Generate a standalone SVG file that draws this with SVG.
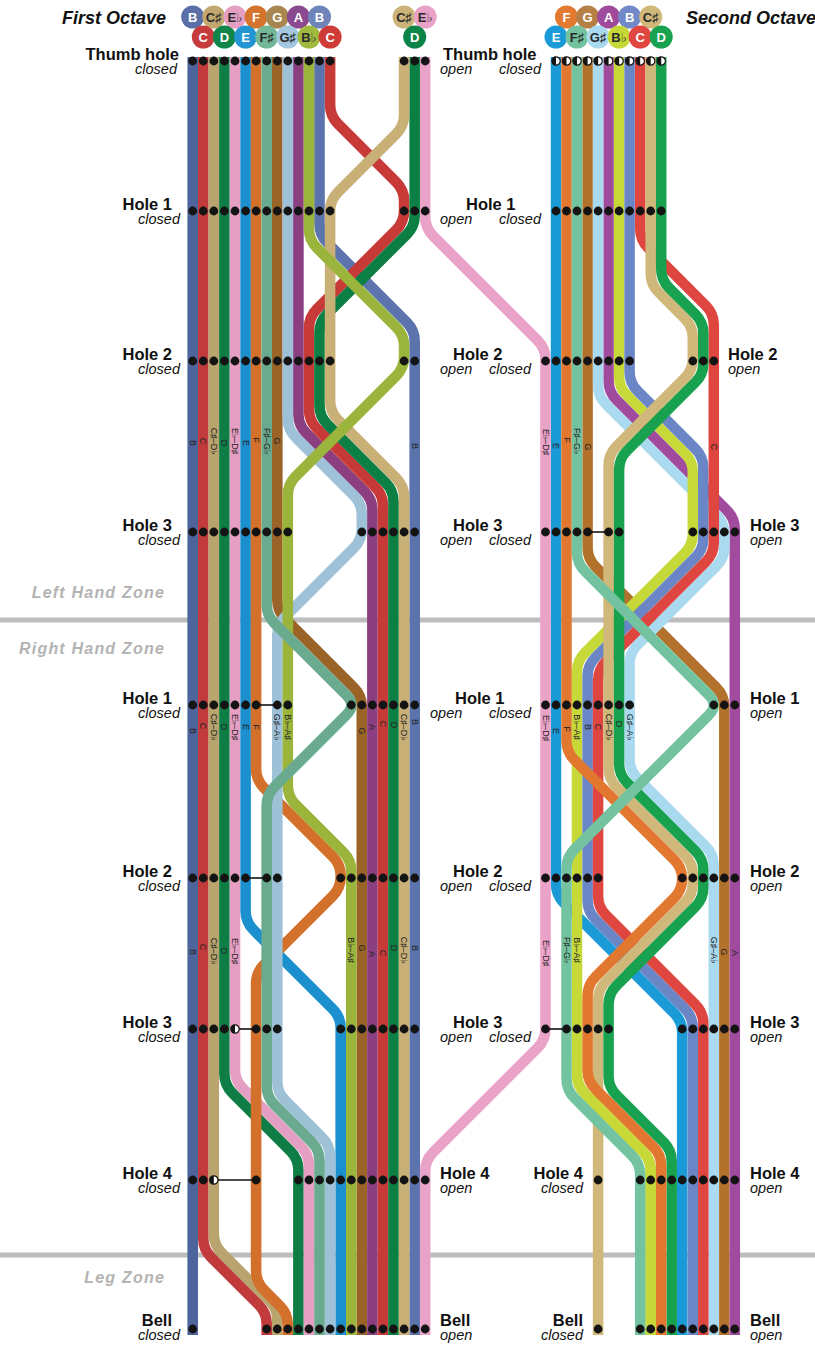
<svg xmlns="http://www.w3.org/2000/svg" width="815" height="1345" viewBox="0 0 815 1345">
<style>
.ln{fill:none;stroke-width:10.6;stroke-linejoin:round}
.ln2{fill:none;stroke-width:10.5;stroke-linejoin:round}
.zone{stroke:#bdbdbd;stroke-width:5}
.zt{font-family:"Liberation Sans",Arial,sans-serif;font-weight:bold;font-style:italic;font-size:16px;letter-spacing:1.2px;fill:#b3b3b3;text-anchor:end}
.hd{font-family:"Liberation Sans",Arial,sans-serif;font-weight:bold;font-size:16.5px;fill:#111}
.st{font-family:"Liberation Sans",Arial,sans-serif;font-style:italic;font-size:14.5px;fill:#111}
.e{text-anchor:end}
.oct{font-family:"Liberation Sans",Arial,sans-serif;font-weight:bold;font-style:italic;font-size:18px;fill:#111}
.lb{font-family:"Liberation Sans","DejaVu Sans",sans-serif;font-size:9px;fill:#222;text-anchor:middle;dominant-baseline:central}
.nt{font-family:"Liberation Sans","DejaVu Sans",sans-serif;font-weight:bold;font-size:13px;text-anchor:middle;dominant-baseline:central}
.w{fill:#fff}
.k{fill:#2a2a2a}
.cn{stroke:#111;stroke-width:1.6}
</style>
<defs>
<circle id="dot" r="4.4" fill="#141414"/>
<g id="half"><circle r="4.2" fill="#fff" stroke="#141414" stroke-width="1.2"/><path d="M0,-4.2A4.2,4.2 0 0 0 0,4.2Z" fill="#141414"/></g>
</defs>
<rect width="815" height="1345" fill="#fff"/>

<g id="zones">
<line class="zone" x1="0" y1="620" x2="815" y2="620"/>
<line class="zone" x1="0" y1="1255" x2="815" y2="1255"/>
<text class="zt" x="165" y="598">Left Hand Zone</text>
<text class="zt" x="165" y="654">Right Hand Zone</text>
<text class="zt" x="165" y="1283">Leg Zone</text>
</g>

<g id="connectors">
<!-- first octave -->
<path class="ln" stroke="#4d649c" d="M192.7,57V1335"/>
<path class="ln" stroke="#c13a3c" d="M203.3,57L203.3,1238.4Q203.3,1249.4 211.3,1257.4L258.7,1304.8Q266.7,1312.8 266.7,1323.8L266.7,1335"/>
<path class="ln" stroke="#b8a46c" d="M213.8,57L213.8,1234Q213.8,1245 221.8,1253L269.3,1300.5Q277.3,1308.5 277.3,1319.5L277.3,1335"/>
<path class="ln" stroke="#0e7e46" d="M224.4,57L224.4,1074Q224.4,1085 232.4,1093L290.4,1151Q298.4,1159 298.4,1170L298.4,1335"/>
<path class="ln" stroke="#e49fc3" d="M235,57L235,1069.6Q235,1080.6 243,1088.6L301,1146.6Q309,1154.6 309,1165.6L309,1335"/>
<path class="ln" stroke="#1c90cf" d="M245.6,57L245.6,911Q245.6,922 253.6,930L332.7,1009.1Q340.7,1017.1 340.7,1028.1L340.7,1335"/>
<path class="ln" stroke="#d2702c" d="M256.1,57L256.1,769Q256.1,780 264.1,788L332.7,856.6Q340.7,864.6 340.7,875.6L340.7,877Q340.7,888 332.7,896L264.1,964.6Q256.1,972.6 256.1,983.6L256.1,1271Q256.1,1282 264.1,1290L279.8,1305.7Q287.8,1313.7 287.8,1324.7L287.8,1335"/>
<path class="ln" stroke="#9a6428" d="M277.3,57L277.3,600Q277.3,611 285.3,619L353.8,687.5Q361.8,695.5 361.8,706.5L361.8,1335"/>
<path class="ln" stroke="#8b3e80" d="M298.4,57L298.4,414.2Q298.4,425.2 306.4,433.2L364.4,491.2Q372.4,499.2 372.4,510.2L372.4,1335"/>
<path class="ln" stroke="#9fc1d8" d="M287.8,57L287.8,418.6Q287.8,429.6 295.8,437.6L353.8,495.6Q361.8,503.6 361.8,514.6L361.8,529Q361.8,540 353.8,548L285.3,616.5Q277.3,624.5 277.3,635.5L277.3,1081.6Q277.3,1092.6 285.3,1100.6L322.1,1137.4Q330.1,1145.4 330.1,1156.4L330.1,1335"/>
<path class="ln" stroke="#5b74ad" d="M319.5,57L319.5,224Q319.5,235 327.5,243L406.7,322.2Q414.7,330.2 414.7,341.2L414.7,1335"/>
<path class="ln" stroke="#c73a38" d="M330.1,57L330.1,105Q330.1,116 338.1,124L396.1,182Q404.1,190 404.1,201L404.1,211Q404.1,222 396.1,230L317,309.1Q309,317.1 309,328.1L309,409.8Q309,420.8 317,428.8L375,486.8Q383,494.8 383,505.8L383,1335"/>
<path class="ln" stroke="#0c7f45" d="M414.7,57L414.7,215.4Q414.7,226.4 406.7,234.4L327.5,313.6Q319.5,321.6 319.5,332.6L319.5,405.4Q319.5,416.4 327.5,424.4L385.5,482.4Q393.5,490.4 393.5,501.4L393.5,1335"/>
<path class="ln" stroke="#c8b077" d="M404.1,57L404.1,115Q404.1,126 396.1,134L338.1,192Q330.1,200 330.1,211L330.1,401Q330.1,412 338.1,420L396.1,478Q404.1,486 404.1,497L404.1,1335"/>
<path class="ln" stroke="#9bb53c" d="M309,57L309,229Q309,240 317,248L396.1,327.1Q404.1,335.1 404.1,346.1L404.1,357Q404.1,368 396.1,376L295.8,476.3Q287.8,484.3 287.8,495.3L287.8,785.7Q287.8,796.7 295.8,804.7L343.3,852.2Q351.3,860.2 351.3,871.2L351.3,1335"/>
<path class="ln" stroke="#6aab8f" d="M266.7,57L266.7,604.4Q266.7,615.4 274.7,623.4L346.3,695Q356.3,705 346.3,715L274.7,786.6Q266.7,794.6 266.7,805.6L266.7,1086Q266.7,1097 274.7,1105L311.5,1141.8Q319.5,1149.8 319.5,1160.8L319.5,1335"/>
<!-- second octave -->
<path class="ln2" stroke="#1a9bd8" d="M556,57L556,884Q556,895 564,903L674.2,1013.2Q682.2,1021.2 682.2,1032.2L682.2,1335"/>
<path class="ln2" stroke="#b3722c" d="M587.6,57L587.6,547.8Q587.6,558.8 595.6,566.8L716.3,687.5Q724.3,695.5 724.3,706.5L724.3,1335"/>
<path class="ln2" stroke="#a04b9e" d="M608.6,57L608.6,381Q608.6,392 616.6,400L726.8,510.2Q734.8,518.2 734.8,529.2L734.8,1335"/>
<path class="ln2" stroke="#aadaf0" d="M598.1,57L598.1,385.4Q598.1,396.4 606.1,404.4L716.3,514.6Q724.3,522.6 724.3,533.6L724.3,547.2Q724.3,558.2 716.3,566.2L637.6,644.9Q629.6,652.9 629.6,663.9L629.6,759.3Q629.6,770.3 637.6,778.3L705.8,846.5Q713.8,854.5 713.8,865.5L713.8,1335"/>
<path class="ln2" stroke="#c6d938" d="M619.1,57L619.1,376.4Q619.1,387.4 627.1,395.4L684.8,453.1Q692.8,461.1 692.8,472.1L692.8,534Q692.8,545 684.8,553L585,652.8Q577,660.8 577,671.8L577,1074.6Q577,1085.6 585,1093.6L642.7,1151.3Q650.7,1159.3 650.7,1170.3L650.7,1335"/>
<path class="ln2" stroke="#6a86c6" d="M629.6,57L629.6,372Q629.6,383 637.6,391L695.3,448.7Q703.3,456.7 703.3,467.7L703.3,538.4Q703.3,549.4 695.3,557.4L595.6,657.1Q587.6,665.1 587.6,676.1L587.6,900.6Q587.6,911.6 595.6,919.6L684.8,1008.8Q692.8,1016.8 692.8,1027.8L692.8,1335"/>
<path class="ln2" stroke="#df4640" d="M640.2,57L640.2,229Q640.2,240 648.2,248L705.8,305.6Q713.8,313.6 713.8,324.6L713.8,542.8Q713.8,553.8 705.8,561.8L606.1,661.5Q598.1,669.5 598.1,680.5L598.1,896.2Q598.1,907.2 606.1,915.2L695.3,1004.4Q703.3,1012.4 703.3,1023.4L703.3,1335"/>
<path class="ln2" stroke="#d0b77a" d="M650.7,57L650.7,273.4Q650.7,284.4 658.7,292.4L684.8,318.5Q692.8,326.5 692.8,337.5L692.8,359Q692.8,370 684.8,378L616.6,446.2Q608.6,454.2 608.6,465.2L608.6,768.1Q608.6,779.1 616.6,787.1L684.8,855.3Q692.8,863.3 692.8,874.3L692.8,883.4Q692.8,894.4 684.8,902.4L606.1,981.1Q598.1,989.1 598.1,1000.1L598.1,1335"/>
<path class="ln2" stroke="#c6d938" d="M577,1060L577,1074.6Q577,1085.6 585,1093.6L642.7,1151.3Q650.7,1159.3 650.7,1170.3L650.7,1335"/>
<path class="ln2" stroke="#18a14e" d="M661.2,57L661.2,269Q661.2,280 669.2,288L695.3,314.1Q703.3,322.1 703.3,333.1L703.3,363.4Q703.3,374.4 695.3,382.4L627.1,450.6Q619.1,458.6 619.1,469.6L619.1,763.7Q619.1,774.7 627.1,782.7L695.3,850.9Q703.3,858.9 703.3,869.9L703.3,887.8Q703.3,898.8 695.3,906.8L616.6,985.5Q608.6,993.5 608.6,1004.5L608.6,1076.2Q608.6,1087.2 616.6,1095.2L663.7,1142.3Q671.7,1150.3 671.7,1161.3L671.7,1335"/>
<path class="ln2" stroke="#e2782f" d="M566.5,57L566.5,741Q566.5,752 574.5,760L674.2,859.7Q682.2,867.7 682.2,878.7L682.2,879Q682.2,890 674.2,898L595.6,976.6Q587.6,984.6 587.6,995.6L587.6,1070.2Q587.6,1081.2 595.6,1089.2L653.2,1146.8Q661.2,1154.8 661.2,1165.8L661.2,1335"/>
<path class="ln2" stroke="#74c3a0" d="M577,57L577,552.2Q577,563.2 585,571.2L708.8,695Q718.8,705 708.8,715L574.5,849.3Q566.5,857.3 566.5,868.3L566.5,1079Q566.5,1090 574.5,1098L632.2,1155.7Q640.2,1163.7 640.2,1174.7L640.2,1335"/>
<path class="ln" stroke="#eaa3c8" d="M425.2,57L425.2,217Q425.2,228 433.2,236L537.5,340.3Q545.5,348.3 545.5,359.3L545.5,1029Q545.5,1040 537.5,1048L433.2,1152.3Q425.2,1160.3 425.2,1171.3L425.2,1335"/>
<!-- black connectors between holes -->
<line class="cn" x1="256.1" y1="705" x2="277.3" y2="705"/>
<line class="cn" x1="245.6" y1="878" x2="266.7" y2="878"/>
<line class="cn" x1="235" y1="1029" x2="256.1" y2="1029"/>
<line class="cn" x1="213.8" y1="1180" x2="256.1" y2="1180"/>
<line class="cn" x1="587.6" y1="532" x2="608.6" y2="532"/>
<line class="cn" x1="545.5" y1="1029" x2="566.5" y2="1029"/>
</g>

<g id="line-labels">
<text class="lb" transform="translate(192.7,443) rotate(90)">B</text>
<text class="lb" transform="translate(203.3,441) rotate(90)">C</text>
<text class="lb" transform="translate(213.8,441) rotate(90)">C♯–D♭</text>
<text class="lb" transform="translate(224.4,443) rotate(90)">D</text>
<text class="lb" transform="translate(235,441) rotate(90)">E♭–D♯</text>
<text class="lb" transform="translate(245.6,443) rotate(90)">E</text>
<text class="lb" transform="translate(256.1,440) rotate(90)">F</text>
<text class="lb" transform="translate(266.7,441) rotate(90)">F♯–G♭</text>
<text class="lb" transform="translate(277.3,441) rotate(90)">G</text>
<text class="lb" transform="translate(414.7,446) rotate(90)">B</text>

<text class="lb" transform="translate(192.7,731) rotate(90)">B</text>
<text class="lb" transform="translate(203.3,726) rotate(90)">C</text>
<text class="lb" transform="translate(213.8,727) rotate(90)">C♯–D♭</text>
<text class="lb" transform="translate(224.4,727) rotate(90)">D</text>
<text class="lb" transform="translate(235,727) rotate(90)">E♭–D♯</text>
<text class="lb" transform="translate(245.6,727) rotate(90)">E</text>
<text class="lb" transform="translate(256.1,727) rotate(90)">F</text>
<text class="lb" transform="translate(277.3,727) rotate(90)">G♯–A♭</text>
<text class="lb" transform="translate(287.8,727) rotate(90)">B♭–A♯</text>
<text class="lb" transform="translate(361.8,731) rotate(90)">G</text>
<text class="lb" transform="translate(372.4,727) rotate(90)">A</text>
<text class="lb" transform="translate(383,724) rotate(90)">C</text>
<text class="lb" transform="translate(393.5,725) rotate(90)">D</text>
<text class="lb" transform="translate(404.1,727) rotate(90)">C♯–D♭</text>
<text class="lb" transform="translate(414.7,722) rotate(90)">B</text>

<text class="lb" transform="translate(192.7,952) rotate(90)">B</text>
<text class="lb" transform="translate(203.3,947) rotate(90)">C</text>
<text class="lb" transform="translate(213.8,951) rotate(90)">C♯–D♭</text>
<text class="lb" transform="translate(224.4,951) rotate(90)">D</text>
<text class="lb" transform="translate(235,951) rotate(90)">E♭–D♯</text>
<text class="lb" transform="translate(351.3,950) rotate(90)">B♭–A♯</text>
<text class="lb" transform="translate(361.8,948) rotate(90)">G</text>
<text class="lb" transform="translate(372.4,954) rotate(90)">A</text>
<text class="lb" transform="translate(383,953) rotate(90)">C</text>
<text class="lb" transform="translate(393.5,948) rotate(90)">D</text>
<text class="lb" transform="translate(404.1,950) rotate(90)">C♯–D♭</text>
<text class="lb" transform="translate(414.7,948) rotate(90)">B</text>

<text class="lb" transform="translate(545.5,442) rotate(90)">E♭–D♯</text>
<text class="lb" transform="translate(556,446) rotate(90)">E</text>
<text class="lb" transform="translate(566.5,440) rotate(90)">F</text>
<text class="lb" transform="translate(577,441) rotate(90)">F♯–G♭</text>
<text class="lb" transform="translate(587.6,447) rotate(90)">G</text>
<text class="lb" transform="translate(713.8,447) rotate(90)">C</text>

<text class="lb" transform="translate(545.5,728) rotate(90)">E♭–D♯</text>
<text class="lb" transform="translate(556,731) rotate(90)">E</text>
<text class="lb" transform="translate(566.5,729) rotate(90)">F</text>
<text class="lb" transform="translate(577,727) rotate(90)">B♭–A♯</text>
<text class="lb" transform="translate(587.6,727) rotate(90)">B</text>
<text class="lb" transform="translate(598.1,727) rotate(90)">C</text>
<text class="lb" transform="translate(608.6,727) rotate(90)">C♯–D♭</text>
<text class="lb" transform="translate(619.1,724) rotate(90)">D</text>
<text class="lb" transform="translate(629.6,727) rotate(90)">G♯–A♭</text>

<text class="lb" transform="translate(545.5,953) rotate(90)">E♭–D♯</text>
<text class="lb" transform="translate(566.5,950) rotate(90)">F♯–G♭</text>
<text class="lb" transform="translate(577,950) rotate(90)">B♭–A♯</text>
<text class="lb" transform="translate(713.8,950) rotate(90)">G♯–A♭</text>
<text class="lb" transform="translate(724.3,952) rotate(90)">G</text>
<text class="lb" transform="translate(734.8,953) rotate(90)">A</text>
</g>

<g id="holes-first-octave">
<g id="h1-thumb">
<use href="#dot" x="192.7" y="61"/><use href="#dot" x="203.3" y="61"/><use href="#dot" x="213.8" y="61"/><use href="#dot" x="224.4" y="61"/><use href="#dot" x="235" y="61"/><use href="#dot" x="245.6" y="61"/><use href="#dot" x="256.1" y="61"/><use href="#dot" x="266.7" y="61"/><use href="#dot" x="277.3" y="61"/><use href="#dot" x="287.8" y="61"/><use href="#dot" x="298.4" y="61"/><use href="#dot" x="309" y="61"/><use href="#dot" x="319.5" y="61"/><use href="#dot" x="330.1" y="61"/>
<use href="#dot" x="404.1" y="61"/><use href="#dot" x="414.7" y="61"/><use href="#dot" x="425.2" y="61"/>
</g>
<g id="h1-hole1">
<use href="#dot" x="192.7" y="211"/><use href="#dot" x="203.3" y="211"/><use href="#dot" x="213.8" y="211"/><use href="#dot" x="224.4" y="211"/><use href="#dot" x="235" y="211"/><use href="#dot" x="245.6" y="211"/><use href="#dot" x="256.1" y="211"/><use href="#dot" x="266.7" y="211"/><use href="#dot" x="277.3" y="211"/><use href="#dot" x="287.8" y="211"/><use href="#dot" x="298.4" y="211"/><use href="#dot" x="309" y="211"/><use href="#dot" x="319.5" y="211"/><use href="#dot" x="330.1" y="211"/>
<use href="#dot" x="404.1" y="211"/><use href="#dot" x="414.7" y="211"/><use href="#dot" x="425.2" y="211"/>
</g>
<g id="h1-hole2">
<use href="#dot" x="192.7" y="361"/><use href="#dot" x="203.3" y="361"/><use href="#dot" x="213.8" y="361"/><use href="#dot" x="224.4" y="361"/><use href="#dot" x="235" y="361"/><use href="#dot" x="245.6" y="361"/><use href="#dot" x="256.1" y="361"/><use href="#dot" x="266.7" y="361"/><use href="#dot" x="277.3" y="361"/><use href="#dot" x="287.8" y="361"/><use href="#dot" x="298.4" y="361"/><use href="#dot" x="309" y="361"/><use href="#dot" x="319.5" y="361"/><use href="#dot" x="330.1" y="361"/>
<use href="#dot" x="404.1" y="361"/><use href="#dot" x="414.7" y="361"/>
</g>
<g id="h1-hole3">
<use href="#dot" x="192.7" y="532"/><use href="#dot" x="203.3" y="532"/><use href="#dot" x="213.8" y="532"/><use href="#dot" x="224.4" y="532"/><use href="#dot" x="235" y="532"/><use href="#dot" x="245.6" y="532"/><use href="#dot" x="256.1" y="532"/><use href="#dot" x="266.7" y="532"/><use href="#dot" x="277.3" y="532"/><use href="#dot" x="287.8" y="532"/>
<use href="#dot" x="361.8" y="532"/><use href="#dot" x="372.4" y="532"/><use href="#dot" x="383" y="532"/><use href="#dot" x="393.5" y="532"/><use href="#dot" x="404.1" y="532"/><use href="#dot" x="414.7" y="532"/>
</g>
<g id="h1-rh1">
<use href="#dot" x="192.7" y="705"/><use href="#dot" x="203.3" y="705"/><use href="#dot" x="213.8" y="705"/><use href="#dot" x="224.4" y="705"/><use href="#dot" x="235" y="705"/><use href="#dot" x="245.6" y="705"/><use href="#dot" x="256.1" y="705"/><use href="#dot" x="277.3" y="705"/><use href="#dot" x="287.8" y="705"/>
<use href="#dot" x="351.3" y="705"/><use href="#dot" x="361.8" y="705"/><use href="#dot" x="372.4" y="705"/><use href="#dot" x="383" y="705"/><use href="#dot" x="393.5" y="705"/><use href="#dot" x="404.1" y="705"/><use href="#dot" x="414.7" y="705"/>
</g>
<g id="h1-rh2">
<use href="#dot" x="192.7" y="878"/><use href="#dot" x="203.3" y="878"/><use href="#dot" x="213.8" y="878"/><use href="#dot" x="224.4" y="878"/><use href="#dot" x="235" y="878"/><use href="#dot" x="245.6" y="878"/><use href="#dot" x="266.7" y="878"/><use href="#dot" x="277.3" y="878"/>
<use href="#dot" x="340.7" y="878"/><use href="#dot" x="351.3" y="878"/><use href="#dot" x="361.8" y="878"/><use href="#dot" x="372.4" y="878"/><use href="#dot" x="383" y="878"/><use href="#dot" x="393.5" y="878"/><use href="#dot" x="404.1" y="878"/><use href="#dot" x="414.7" y="878"/>
</g>
<g id="h1-rh3">
<use href="#dot" x="192.7" y="1029"/><use href="#dot" x="203.3" y="1029"/><use href="#dot" x="213.8" y="1029"/><use href="#dot" x="224.4" y="1029"/><use href="#half" x="235" y="1029"/><use href="#dot" x="256.1" y="1029"/><use href="#dot" x="266.7" y="1029"/><use href="#dot" x="277.3" y="1029"/>
<use href="#dot" x="340.7" y="1029"/><use href="#dot" x="351.3" y="1029"/><use href="#dot" x="361.8" y="1029"/><use href="#dot" x="372.4" y="1029"/><use href="#dot" x="383" y="1029"/><use href="#dot" x="393.5" y="1029"/><use href="#dot" x="404.1" y="1029"/><use href="#dot" x="414.7" y="1029"/>
</g>
<g id="h1-rh4">
<use href="#dot" x="192.7" y="1180"/><use href="#dot" x="203.3" y="1180"/><use href="#half" x="213.8" y="1180"/><use href="#dot" x="256.1" y="1180"/>
<use href="#dot" x="298.4" y="1180"/><use href="#dot" x="309" y="1180"/><use href="#dot" x="319.5" y="1180"/><use href="#dot" x="330.1" y="1180"/><use href="#dot" x="340.7" y="1180"/><use href="#dot" x="351.3" y="1180"/><use href="#dot" x="361.8" y="1180"/><use href="#dot" x="372.4" y="1180"/><use href="#dot" x="383" y="1180"/><use href="#dot" x="393.5" y="1180"/><use href="#dot" x="404.1" y="1180"/><use href="#dot" x="414.7" y="1180"/><use href="#dot" x="425.2" y="1180"/>
</g>
<g id="h1-bell">
<use href="#dot" x="192.7" y="1329"/>
<use href="#dot" x="266.7" y="1329"/><use href="#dot" x="277.3" y="1329"/><use href="#dot" x="287.8" y="1329"/><use href="#dot" x="298.4" y="1329"/><use href="#dot" x="309" y="1329"/><use href="#dot" x="319.5" y="1329"/><use href="#dot" x="330.1" y="1329"/><use href="#dot" x="340.7" y="1329"/><use href="#dot" x="351.3" y="1329"/><use href="#dot" x="361.8" y="1329"/><use href="#dot" x="372.4" y="1329"/><use href="#dot" x="383" y="1329"/><use href="#dot" x="393.5" y="1329"/><use href="#dot" x="404.1" y="1329"/><use href="#dot" x="414.7" y="1329"/><use href="#dot" x="425.2" y="1329"/>
</g>
</g>

<g id="holes-second-octave">
<g id="h2-thumb">
<use href="#half" x="556" y="61"/><use href="#half" x="566.5" y="61"/><use href="#half" x="577" y="61"/><use href="#half" x="587.6" y="61"/><use href="#half" x="598.1" y="61"/><use href="#half" x="608.6" y="61"/><use href="#half" x="619.1" y="61"/><use href="#half" x="629.6" y="61"/><use href="#half" x="640.2" y="61"/><use href="#half" x="650.7" y="61"/><use href="#half" x="661.2" y="61"/>
</g>
<g id="h2-hole1">
<use href="#dot" x="556" y="211"/><use href="#dot" x="566.5" y="211"/><use href="#dot" x="577" y="211"/><use href="#dot" x="587.6" y="211"/><use href="#dot" x="598.1" y="211"/><use href="#dot" x="608.6" y="211"/><use href="#dot" x="619.1" y="211"/><use href="#dot" x="629.6" y="211"/><use href="#dot" x="640.2" y="211"/><use href="#dot" x="650.7" y="211"/><use href="#dot" x="661.2" y="211"/>
</g>
<g id="h2-hole2">
<use href="#dot" x="545.5" y="361"/><use href="#dot" x="556" y="361"/><use href="#dot" x="566.5" y="361"/><use href="#dot" x="577" y="361"/><use href="#dot" x="587.6" y="361"/><use href="#dot" x="598.1" y="361"/><use href="#dot" x="608.6" y="361"/><use href="#dot" x="619.1" y="361"/><use href="#dot" x="629.6" y="361"/>
<use href="#dot" x="692.8" y="361"/><use href="#dot" x="703.3" y="361"/><use href="#dot" x="713.8" y="361"/>
</g>
<g id="h2-hole3">
<use href="#dot" x="545.5" y="532"/><use href="#dot" x="556" y="532"/><use href="#dot" x="566.5" y="532"/><use href="#dot" x="577" y="532"/><use href="#dot" x="587.6" y="532"/><use href="#dot" x="608.6" y="532"/><use href="#dot" x="619.1" y="532"/>
<use href="#dot" x="692.8" y="532"/><use href="#dot" x="703.3" y="532"/><use href="#dot" x="713.8" y="532"/><use href="#dot" x="724.3" y="532"/><use href="#dot" x="734.8" y="532"/>
</g>
<g id="h2-rh1">
<use href="#dot" x="545.5" y="705"/><use href="#dot" x="556" y="705"/><use href="#dot" x="566.5" y="705"/><use href="#dot" x="577" y="705"/><use href="#dot" x="587.6" y="705"/><use href="#dot" x="598.1" y="705"/><use href="#dot" x="608.6" y="705"/><use href="#dot" x="619.1" y="705"/><use href="#dot" x="629.6" y="705"/>
<use href="#dot" x="713.8" y="705"/><use href="#dot" x="724.3" y="705"/><use href="#dot" x="734.8" y="705"/>
</g>
<g id="h2-rh2">
<use href="#dot" x="545.5" y="878"/><use href="#dot" x="556" y="878"/><use href="#dot" x="566.5" y="878"/><use href="#dot" x="577" y="878"/><use href="#dot" x="587.6" y="878"/><use href="#dot" x="598.1" y="878"/>
<use href="#dot" x="682.2" y="878"/><use href="#dot" x="692.8" y="878"/><use href="#dot" x="703.3" y="878"/><use href="#dot" x="713.8" y="878"/><use href="#dot" x="724.3" y="878"/><use href="#dot" x="734.8" y="878"/>
</g>
<g id="h2-rh3">
<use href="#dot" x="545.5" y="1029"/><use href="#dot" x="566.5" y="1029"/><use href="#dot" x="577" y="1029"/><use href="#dot" x="587.6" y="1029"/><use href="#dot" x="598.1" y="1029"/><use href="#dot" x="608.6" y="1029"/>
<use href="#dot" x="682.2" y="1029"/><use href="#dot" x="692.8" y="1029"/><use href="#dot" x="703.3" y="1029"/><use href="#dot" x="713.8" y="1029"/><use href="#dot" x="724.3" y="1029"/><use href="#dot" x="734.8" y="1029"/>
</g>
<g id="h2-rh4">
<use href="#dot" x="598.1" y="1180"/>
<use href="#dot" x="640.2" y="1180"/><use href="#dot" x="650.7" y="1180"/><use href="#dot" x="661.2" y="1180"/><use href="#dot" x="671.7" y="1180"/><use href="#dot" x="682.2" y="1180"/><use href="#dot" x="692.8" y="1180"/><use href="#dot" x="703.3" y="1180"/><use href="#dot" x="713.8" y="1180"/><use href="#dot" x="724.3" y="1180"/><use href="#dot" x="734.8" y="1180"/>
</g>
<g id="h2-bell">
<use href="#dot" x="598.1" y="1329"/>
<use href="#dot" x="640.2" y="1329"/><use href="#dot" x="650.7" y="1329"/><use href="#dot" x="661.2" y="1329"/><use href="#dot" x="671.7" y="1329"/><use href="#dot" x="682.2" y="1329"/><use href="#dot" x="692.8" y="1329"/><use href="#dot" x="703.3" y="1329"/><use href="#dot" x="713.8" y="1329"/><use href="#dot" x="724.3" y="1329"/><use href="#dot" x="734.8" y="1329"/>
</g>
</g>

<g id="note-circles">
<circle cx="192.7" cy="17" r="11.5" fill="#5a6fa8"/><text class="nt w" x="192.7" y="17">B</text>
<circle cx="213.8" cy="17" r="11.5" fill="#c2a86e"/><text class="nt k" x="213.8" y="17">C♯</text>
<circle cx="235" cy="17" r="11.5" fill="#e49fc3"/><text class="nt k" x="235" y="17">E♭</text>
<circle cx="256.1" cy="17" r="11.5" fill="#d4742e"/><text class="nt w" x="256.1" y="17">F</text>
<circle cx="277.3" cy="17" r="11.5" fill="#a98650"/><text class="nt w" x="277.3" y="17">G</text>
<circle cx="298.4" cy="17" r="11.5" fill="#8b4a8f"/><text class="nt w" x="298.4" y="17">A</text>
<circle cx="319.5" cy="17" r="11.5" fill="#6e84bb"/><text class="nt w" x="319.5" y="17">B</text>
<circle cx="203.3" cy="37" r="11.5" fill="#c63b3b"/><text class="nt w" x="203.3" y="37">C</text>
<circle cx="224.4" cy="37" r="11.5" fill="#0f8548"/><text class="nt w" x="224.4" y="37">D</text>
<circle cx="245.6" cy="37" r="11.5" fill="#2395d3"/><text class="nt w" x="245.6" y="37">E</text>
<circle cx="266.7" cy="37" r="11.5" fill="#74b797"/><text class="nt k" x="266.7" y="37">F♯</text>
<circle cx="287.8" cy="37" r="11.5" fill="#a2c7df"/><text class="nt k" x="287.8" y="37">G♯</text>
<circle cx="309" cy="37" r="11.5" fill="#9fba3e"/><text class="nt k" x="309" y="37">B♭</text>
<circle cx="330.1" cy="37" r="11.5" fill="#cf3b36"/><text class="nt w" x="330.1" y="37">C</text>
<circle cx="404.1" cy="17" r="11.5" fill="#cbb37a"/><text class="nt k" x="404.1" y="17">C♯</text>
<circle cx="425.2" cy="17" r="11.5" fill="#eaa3c8"/><text class="nt k" x="425.2" y="17">E♭</text>
<circle cx="414.7" cy="37" r="11.5" fill="#0c8447"/><text class="nt w" x="414.7" y="37">D</text>

<circle cx="566.5" cy="17" r="11.5" fill="#e27a32"/><text class="nt w" x="566.5" y="17">F</text>
<circle cx="587.6" cy="17" r="11.5" fill="#b57f45"/><text class="nt w" x="587.6" y="17">G</text>
<circle cx="608.6" cy="17" r="11.5" fill="#a04a9c"/><text class="nt w" x="608.6" y="17">A</text>
<circle cx="629.6" cy="17" r="11.5" fill="#7189c8"/><text class="nt w" x="629.6" y="17">B</text>
<circle cx="650.7" cy="17" r="11.5" fill="#d0b77a"/><text class="nt k" x="650.7" y="17">C♯</text>
<circle cx="556" cy="37" r="11.5" fill="#1a9bd8"/><text class="nt w" x="556" y="37">E</text>
<circle cx="577" cy="37" r="11.5" fill="#74c3a0"/><text class="nt k" x="577" y="37">F♯</text>
<circle cx="598.1" cy="37" r="11.5" fill="#aadaf0"/><text class="nt k" x="598.1" y="37">G♯</text>
<circle cx="619.1" cy="37" r="11.5" fill="#c6d938"/><text class="nt k" x="619.1" y="37">B♭</text>
<circle cx="640.2" cy="37" r="11.5" fill="#e0463f"/><text class="nt w" x="640.2" y="37">C</text>
<circle cx="661.2" cy="37" r="11.5" fill="#18a14e"/><text class="nt w" x="661.2" y="37">D</text>
</g>

<g id="titles">
<text class="oct" x="62" y="24">First Octave</text>
<text class="oct" x="686" y="24">Second Octave</text>
</g>

<g id="hole-labels">
<text class="hd e" x="179" y="60">Thumb hole</text><text class="st e" x="177" y="74">closed</text>
<text class="hd e" x="172" y="210">Hole 1</text><text class="st e" x="180" y="224">closed</text>
<text class="hd e" x="172" y="360">Hole 2</text><text class="st e" x="180" y="374">closed</text>
<text class="hd e" x="172" y="531">Hole 3</text><text class="st e" x="180" y="545">closed</text>
<text class="hd e" x="172" y="704">Hole 1</text><text class="st e" x="180" y="718">closed</text>
<text class="hd e" x="172" y="877">Hole 2</text><text class="st e" x="180" y="891">closed</text>
<text class="hd e" x="172" y="1028">Hole 3</text><text class="st e" x="180" y="1042">closed</text>
<text class="hd e" x="172" y="1179">Hole 4</text><text class="st e" x="180" y="1193">closed</text>
<text class="hd e" x="172" y="1326">Bell</text><text class="st e" x="180" y="1340">closed</text>

<text class="hd" x="443" y="60">Thumb hole</text><text class="st" x="440" y="74">open</text><text class="st e" x="541" y="74">closed</text>
<text class="hd" x="466" y="210">Hole 1</text><text class="st" x="440" y="224">open</text><text class="st e" x="541" y="224">closed</text>
<text class="hd" x="453" y="360">Hole 2</text><text class="st" x="440" y="374">open</text><text class="st e" x="531" y="374">closed</text>
<text class="hd" x="453" y="531">Hole 3</text><text class="st" x="440" y="545">open</text><text class="st e" x="531" y="545">closed</text>
<text class="hd" x="455" y="704">Hole 1</text><text class="st" x="430" y="718">open</text><text class="st e" x="531" y="718">closed</text>
<text class="hd" x="453" y="877">Hole 2</text><text class="st" x="440" y="891">open</text><text class="st e" x="531" y="891">closed</text>
<text class="hd" x="453" y="1028">Hole 3</text><text class="st" x="440" y="1042">open</text><text class="st e" x="531" y="1042">closed</text>
<text class="hd" x="440" y="1179">Hole 4</text><text class="st" x="440" y="1193">open</text>
<text class="hd e" x="583" y="1179">Hole 4</text><text class="st e" x="583" y="1193">closed</text>
<text class="hd" x="440" y="1326">Bell</text><text class="st" x="440" y="1340">open</text>
<text class="hd e" x="583" y="1326">Bell</text><text class="st e" x="583" y="1340">closed</text>

<text class="hd" x="728" y="360">Hole 2</text><text class="st" x="728" y="374">open</text>
<text class="hd" x="750" y="531">Hole 3</text><text class="st" x="750" y="545">open</text>
<text class="hd" x="750" y="704">Hole 1</text><text class="st" x="750" y="718">open</text>
<text class="hd" x="750" y="877">Hole 2</text><text class="st" x="750" y="891">open</text>
<text class="hd" x="750" y="1028">Hole 3</text><text class="st" x="750" y="1042">open</text>
<text class="hd" x="750" y="1179">Hole 4</text><text class="st" x="750" y="1193">open</text>
<text class="hd" x="750" y="1326">Bell</text><text class="st" x="750" y="1340">open</text>
</g>
</svg>
